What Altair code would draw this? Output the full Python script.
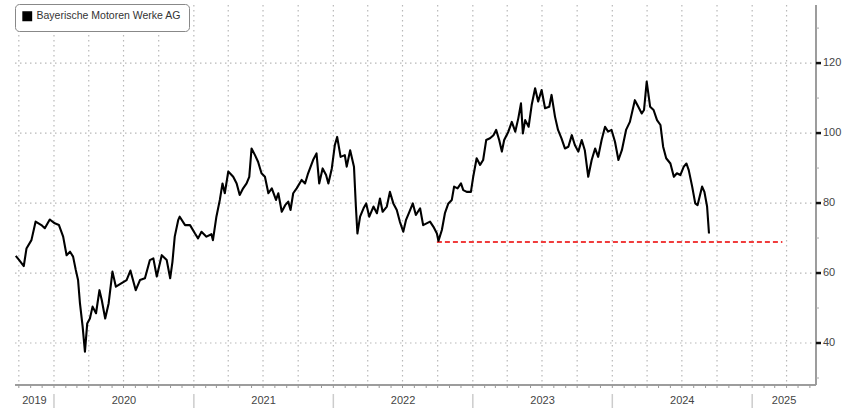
import altair as alt
import pandas as pd

# ---------------- data ----------------
series_name = "Bayerische Motoren Werke AG"

dates = [
    "2019-09-23", "2019-10-02", "2019-10-14", "2019-10-21", "2019-11-03", "2019-11-14", "2019-11-29",
    "2019-12-08", "2019-12-21", "2020-01-03", "2020-01-14", "2020-01-25", "2020-02-03", "2020-02-12",
    "2020-02-20", "2020-02-27", "2020-03-04", "2020-03-09", "2020-03-16", "2020-03-22", "2020-03-28",
    "2020-04-04", "2020-04-11", "2020-04-20", "2020-04-29", "2020-05-05", "2020-05-14", "2020-05-23",
    "2020-06-02", "2020-06-11", "2020-06-26", "2020-07-09", "2020-07-19", "2020-08-02", "2020-08-13",
    "2020-08-26", "2020-09-08", "2020-09-17", "2020-09-26", "2020-10-09", "2020-10-22", "2020-10-31",
    "2020-11-06", "2020-11-12", "2020-11-21", "2020-11-25", "2020-12-09", "2020-12-22", "2021-01-04",
    "2021-01-12", "2021-01-21", "2021-02-03", "2021-02-16", "2021-02-20", "2021-03-01", "2021-03-10",
    "2021-03-17", "2021-03-23", "2021-04-01", "2021-04-14", "2021-04-23", "2021-05-01", "2021-05-10",
    "2021-05-19", "2021-05-26", "2021-06-01", "2021-06-10", "2021-06-18", "2021-06-27", "2021-07-06",
    "2021-07-15", "2021-07-24", "2021-08-04", "2021-08-10", "2021-08-19", "2021-08-28", "2021-09-05",
    "2021-09-11", "2021-09-18", "2021-09-27", "2021-10-10", "2021-10-19", "2021-10-27", "2021-11-09",
    "2021-11-18", "2021-11-25", "2021-12-04", "2021-12-13", "2021-12-19", "2021-12-28", "2022-01-05",
    "2022-01-11", "2022-01-20", "2022-01-31", "2022-02-05", "2022-02-14", "2022-02-24", "2022-03-01",
    "2022-03-05", "2022-03-12", "2022-03-21", "2022-03-28", "2022-04-05", "2022-04-16", "2022-04-25",
    "2022-05-03", "2022-05-10", "2022-05-21", "2022-05-29", "2022-06-07", "2022-06-16", "2022-06-24",
    "2022-07-03", "2022-07-10", "2022-07-19", "2022-07-28", "2022-08-05", "2022-08-16", "2022-08-24",
    "2022-09-02", "2022-09-11", "2022-09-20", "2022-09-29", "2022-10-03", "2022-10-12", "2022-10-20",
    "2022-10-29", "2022-11-07", "2022-11-13", "2022-11-22", "2022-12-01", "2022-12-07", "2022-12-16",
    "2022-12-27", "2023-01-02", "2023-01-11", "2023-01-20", "2023-01-28", "2023-02-05", "2023-02-15",
    "2023-02-24", "2023-03-03", "2023-03-11", "2023-03-18", "2023-03-24", "2023-04-04", "2023-04-13",
    "2023-04-22", "2023-04-30", "2023-05-07", "2023-05-12", "2023-05-18", "2023-05-27", "2023-06-04",
    "2023-06-13", "2023-06-21", "2023-06-30", "2023-07-09", "2023-07-20", "2023-07-26", "2023-08-04",
    "2023-08-12", "2023-08-21", "2023-08-30", "2023-09-08", "2023-09-17", "2023-09-25", "2023-10-04",
    "2023-10-13", "2023-10-21", "2023-10-30", "2023-11-08", "2023-11-17", "2023-11-25", "2023-12-04",
    "2023-12-13", "2023-12-21", "2023-12-30", "2024-01-08", "2024-01-17", "2024-01-26", "2024-02-06",
    "2024-02-16", "2024-02-29", "2024-03-09", "2024-03-18", "2024-03-24", "2024-03-31", "2024-04-09",
    "2024-04-18", "2024-04-27", "2024-05-06", "2024-05-13", "2024-05-21", "2024-06-01", "2024-06-10",
    "2024-06-18", "2024-06-27", "2024-07-06", "2024-07-13", "2024-07-19", "2024-07-28", "2024-08-05",
    "2024-08-11", "2024-08-23", "2024-08-29", "2024-09-05", "2024-09-10",
]

prices = [
    64.9, 63.7, 62.0, 67.0, 69.4, 74.7, 73.7,
    72.8, 75.3, 74.2, 73.7, 70.4, 65.1, 66.1,
    64.7, 60.9, 58.0, 51.3, 44.7, 37.5, 45.6,
    47.0, 50.4, 48.5, 55.1, 52.3, 47.0, 51.3,
    60.4, 56.1, 57.1, 58.0, 60.7, 55.1, 58.0,
    58.5, 63.7, 64.2, 59.0, 65.1, 63.7, 58.5,
    63.2, 70.4, 75.1, 76.1, 73.7, 73.7, 71.3,
    69.9, 71.8, 70.4, 71.1, 69.4, 76.1, 80.9,
    85.6, 82.8, 89.0, 87.5, 85.6, 82.3, 84.2,
    85.6, 87.5, 95.6, 93.7, 91.8, 88.5, 87.5,
    82.8, 84.2, 80.9, 82.8, 77.5, 79.4, 80.4,
    78.0, 82.8, 84.2, 86.6, 85.6, 88.5, 92.3,
    94.2, 85.6, 89.9, 88.0, 85.6, 89.9, 96.6,
    98.9, 93.2, 93.7, 90.4, 95.1, 90.4, 79.0,
    71.3, 76.1, 78.5, 79.9, 76.1, 79.0, 77.1,
    81.3, 77.5, 79.0, 83.2, 79.9, 78.0, 74.7,
    71.8, 75.1, 77.5, 79.9, 76.6, 78.5, 73.7,
    74.2, 74.7, 73.2, 71.3, 69.2, 72.3, 77.1,
    79.9, 80.9, 84.7, 84.2, 85.6, 83.7, 83.2,
    83.2, 87.5, 92.8, 90.9, 92.3, 98.0, 98.5,
    99.4, 100.9, 98.0, 94.7, 98.0, 100.4, 103.2,
    100.4, 104.2, 108.5, 99.9, 103.7, 101.8, 108.0,
    112.8, 109.0, 112.3, 107.1, 107.5, 110.9, 104.7,
    100.9, 98.5, 95.6, 96.1, 99.4, 96.6, 94.7,
    98.0, 95.1, 87.5, 92.3, 95.6, 93.2, 98.0,
    101.8, 100.4, 100.9, 97.5, 92.3, 95.1, 100.9,
    103.2, 109.4, 107.5, 105.6, 106.6, 114.7, 107.5,
    106.6, 103.7, 102.3, 96.1, 92.8, 91.3, 87.5,
    88.5, 88.0, 90.4, 91.3, 89.4, 84.7, 79.9,
    79.4, 84.7, 83.2, 79.0, 71.3,
]

support_level = 68.9
support_start = "2022-09-29"
support_end = "2025-03-21"

y_tick_values = [40, 60, 80, 100, 120]
y_minor_values = [30, 50, 70, 90, 110, 130]
years = [2019, 2020, 2021, 2022, 2023, 2024, 2025]
x_start, x_end = "2019-09-21", "2025-06-17"
y_min, y_max = 28, 136.6

# ---------------- layout / style ----------------
W, H = 801, 380
FONT = "Liberation Sans"
GRID = "#b8b8b8"
AXIS = "#999999"

df = pd.DataFrame({"date": pd.to_datetime(dates), "price": prices, "series": series_name})

xs, xe = pd.Timestamp(x_start), pd.Timestamp(x_end)
xscale = alt.Scale(
    domain=[alt.DateTime(year=xs.year, month=xs.month, date=xs.day),
            alt.DateTime(year=xe.year, month=xe.month, date=xe.day)],
    nice=False,
)
yscale = alt.Scale(domain=[y_min, y_max], nice=False, zero=False)

# quarterly vertical grid lines, monthly ticks on the time axis
quarters = pd.date_range("2019-10-01", x_end, freq="QS")
grid_df = pd.DataFrame({"date": quarters})
months = pd.date_range("2019-10-01", x_end, freq="MS")
month_df = pd.DataFrame({"date": months})

# year boundaries and centred labels
bounds = [pd.Timestamp(f"{y}-01-01") for y in years[1:]]
bound_df = pd.DataFrame({"date": bounds})
mids = []
for y in years:
    s = max(pd.Timestamp(f"{y}-01-01"), xs)
    e = min(pd.Timestamp(f"{y + 1}-01-01"), xe)
    mids.append(s + (e - s) / 2)
label_df = pd.DataFrame({"date": mids, "label": [str(y) for y in years]})

support_df = pd.DataFrame({"start": [pd.Timestamp(support_start)],
                           "end": [pd.Timestamp(support_end)],
                           "level": [support_level]})
major_df = pd.DataFrame({"v": y_tick_values, "label": [str(v) for v in y_tick_values]})
minor_df = pd.DataFrame({"v": y_minor_values})

vgrid = alt.Chart(grid_df).mark_rule(color=GRID, strokeDash=[1.5, 3.5], strokeWidth=1.2).encode(
    x=alt.X("date:T", scale=xscale, axis=None),
    y=alt.value(0), y2=alt.value(H),
)

hgrid = alt.Chart(major_df).mark_rule(color=GRID, strokeDash=[1.5, 3.5], strokeWidth=1.2).encode(
    y=alt.Y("v:Q", scale=yscale, axis=None),
    x=alt.value(0), x2=alt.value(W),
)

line = alt.Chart(df).mark_line(strokeWidth=2.1, strokeJoin="round", color="#000000").encode(
    x=alt.X("date:T", scale=xscale, axis=None),
    y=alt.Y("price:Q", scale=yscale, axis=None),
    color=alt.Color("series:N", scale=alt.Scale(range=["#000000"]),
                    legend=alt.Legend(title=None, orient="none", legendX=0, legendY=-1,
                                      symbolType="square", symbolFillColor="#000000",
                                      symbolStrokeColor="#000000", symbolSize=70,
                                      labelFont=FONT, labelFontSize=10.5, labelColor="#333333",
                                      strokeColor="#888888", cornerRadius=4, padding=7,
                                      fillColor="#ffffff")),
)

support = alt.Chart(support_df).mark_rule(color="#f03c3c", strokeDash=[5, 3], strokeWidth=2).encode(
    x=alt.X("start:T", scale=xscale, axis=None),
    x2="end:T",
    y=alt.Y("level:Q", scale=yscale, axis=None),
)

# axis lines
right_axis = alt.Chart(major_df).mark_rule(color=AXIS, strokeWidth=1).encode(
    x=alt.value(W), y=alt.value(0), y2=alt.value(H),
)
bottom_axis = alt.Chart(major_df).mark_rule(color=AXIS, strokeWidth=1).encode(
    y=alt.value(H), x=alt.value(0), x2=alt.value(W),
)

# y ticks and labels
major_ticks = alt.Chart(major_df).mark_rule(color="#111111", strokeWidth=2.5).encode(
    y=alt.Y("v:Q", scale=yscale, axis=None),
    x=alt.value(W), x2=alt.value(W + 5),
)
minor_ticks = alt.Chart(minor_df).mark_rule(color="#aaaaaa", strokeWidth=1).encode(
    y=alt.Y("v:Q", scale=yscale, axis=None),
    x=alt.value(W), x2=alt.value(W + 3),
)
y_labels = alt.Chart(major_df).mark_text(font=FONT, fontSize=11, color="#444444",
                                         align="left", baseline="middle").encode(
    y=alt.Y("v:Q", scale=yscale, axis=None),
    x=alt.value(W + 7),
    text="label:N",
)

# x month ticks, year separators, year labels
month_ticks = alt.Chart(month_df).mark_rule(color=AXIS, strokeWidth=1).encode(
    x=alt.X("date:T", scale=xscale, axis=None),
    y=alt.value(H), y2=alt.value(H + 3),
)
seps = alt.Chart(bound_df).mark_rule(color="#cccccc", strokeWidth=1.5).encode(
    x=alt.X("date:T", scale=xscale, axis=None),
    y=alt.value(H + 9), y2=alt.value(H + 23),
)
x_labels = alt.Chart(label_df).mark_text(font=FONT, fontSize=11, color="#444444", baseline="middle").encode(
    x=alt.X("date:T", scale=xscale, axis=None),
    y=alt.value(H + 16),
    text="label:N",
)

chart = alt.layer(
    vgrid, hgrid, support, line, right_axis, bottom_axis,
    major_ticks, minor_ticks, y_labels, month_ticks, seps, x_labels,
).properties(
    width=W, height=H,
    autosize=alt.AutoSizeParams(type="none"),
    padding={"left": 15, "top": 5, "right": 32, "bottom": 32},
    background="#ffffff",
).configure_view(stroke=None)

chart.save("out.html", embed_options={"renderer": "svg", "actions": False})
